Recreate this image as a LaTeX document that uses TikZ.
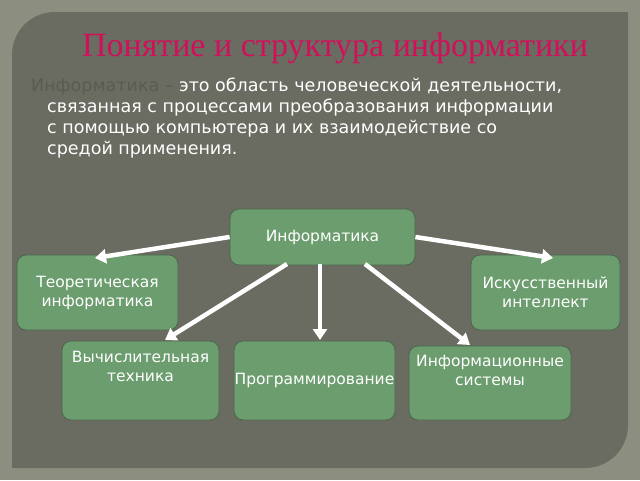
\documentclass[tikz,border=0pt]{standalone}
\usepackage{fontspec}
\setmainfont{DejaVu Sans}
\newfontfamily\titlefont{Liberation Serif}
\usetikzlibrary{arrows.meta}
\begin{document}
\begin{tikzpicture}[x=1pt,y=-1pt,
 box/.style={draw=white!75!green!40!black,line width=0.8pt,fill=bx,rounded corners=9pt,align=center,text=white,font=\fontsize{15.5}{19}\selectfont,inner sep=0pt},
 arr/.style={draw=white,line width=4.5pt,-{Triangle[length=11pt,width=14pt]}}]
\definecolor{bx}{HTML}{6C9D6E}
\definecolor{outer}{HTML}{8C8F80}
\definecolor{panel}{HTML}{6A6C61}
\definecolor{tpink}{HTML}{D0105A}
\useasboundingbox (0,0) rectangle (640,480);
\fill[outer] (0,0) rectangle (640,480);
\fill[panel] (12,55) .. controls (12,31) and (31,12) .. (55,12) -- (628,12) -- (628,425) .. controls (628,449) and (609,468) .. (585,468) -- (12,468) -- cycle;
\node (title) at (335,48) {\titlefont\fontsize{34}{40}\selectfont\color{tpink}Понятие и структура информатики};
\node[anchor=north west,align=left,text=white,font=\fontsize{17.5}{21}\selectfont,inner sep=0pt] (def) at (31,78)
 {\textcolor{panel!85!black}{Информатика –} это область человеческой деятельности,\\
 \hspace*{16pt}связанная с процессами преобразования информации\\
 \hspace*{16pt}с помощью компьютера и их взаимодействие со\\
 \hspace*{16pt}средой применения.};
\node[box,minimum width=185pt,minimum height=56pt] (inf) at (322.5,237) {Информатика};
\node[box,minimum width=161pt,minimum height=75pt] (teo) at (97.5,292.5) {Теоретическая\\информатика};
\node[box,minimum width=149pt,minimum height=75pt] (ii) at (545.5,292.5) {Искусственный\\интеллект};
\node[box,minimum width=157pt,minimum height=79pt] (vt) at (140.5,380.5) {Вычислительная\\техника\\[10pt]};
\node[box,minimum width=161pt,minimum height=79pt] (pr) at (314.5,380.5) {Программирование};
\node[box,minimum width=162pt,minimum height=74pt] (is) at (490,383) {Информационные\\системы\\[6pt]};
\draw[arr] (inf.west) -- (95,258);
\draw[arr] (inf.east) -- (553,258);
\draw[arr] (287,264) -- (165,340);
\draw[arr] (320,264) -- (320,340);
\draw[arr] (365,264) -- (470,345);
\end{tikzpicture}
\end{document}
